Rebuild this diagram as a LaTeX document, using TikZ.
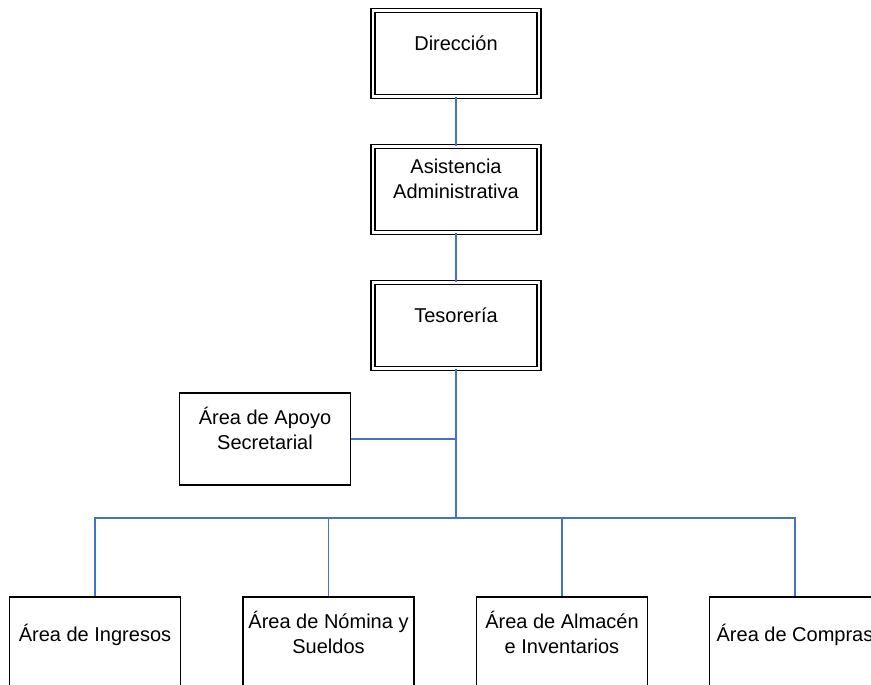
\documentclass[tikz,border=0pt]{standalone}
\usepackage{fontspec}
\setmainfont{Liberation Sans}
\definecolor{linkblue}{HTML}{4472C4}
\begin{document}
\begin{tikzpicture}[x=0.75pt,y=-0.75pt,head node/.style={draw=black, double, double distance=2.1pt, line width=0.9pt, fill=white, align=center, minimum width=124.5pt, minimum height=64.5pt, inner sep=2pt, text depth=16pt, font=\fontsize{15}{18.75}\selectfont},area node/.style={draw=black, line width=1.1pt, fill=white, align=center, minimum width=128.25pt, minimum height=69pt, inner sep=2pt, text depth=16pt, font=\fontsize{15}{18.75}\selectfont},link/.style={draw=linkblue, line width=1pt}]%
\path[use as bounding box] (0,0) rectangle (871,685);%
  % Mando%
\node[head node] (dir) at (456,53.5) {Dirección};%
\node[head node] (asis) at (456,189.5) {Asistencia\\ Administrativa};%
\node[head node] (tes) at (456,325.5) {Tesorería};%
\node[area node] (apoyo) at (265,439) {Área de Apoyo\\ Secretarial};%
  % Areas%
\node[area node] (ing) at (95,643) {Área de Ingresos};%
\node[area node] (nom) at (328.5,643) {Área de Nómina y\\ Sueldos};%
\node[area node] (alm) at (562,643) {Área de Almacén\\ e Inventarios};%
\node[area node] (comp) at (795,643) {Área de Compras};%
\coordinate (bus) at (456,518);%
  % Lineas%
\path[link] (dir.south) -- (asis.north);%
\path[link] (asis.south) -- (tes.north);%
\path[link] (tes.south) -- (bus);%
\path[link] (apoyo.east) -- (apoyo.east -| bus);%
\path[link] (ing.north) -- (ing.north |- bus) -- (comp.north |- bus) -- (comp.north);%
\path[link] (nom.north) -- (nom.north |- bus);%
\path[link] (alm.north) -- (alm.north |- bus);%
\end{tikzpicture}
\end{document}
